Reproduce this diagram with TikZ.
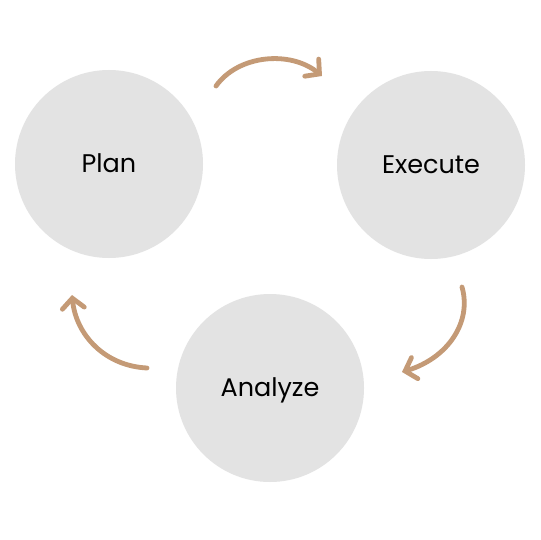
\documentclass[tikz,border=0pt]{standalone}
\usepackage{fontspec}
\setmainfont{Poppins}
\usetikzlibrary{arrows.meta,positioning}

\begin{document}
\begin{tikzpicture}[x=1pt,y=-1pt,
  stage/.style={circle,fill=stagefill,minimum size=188pt,inner sep=0pt,
    text height=17pt,text depth=0pt,font=\fontsize{25.5}{30}\selectfont},
  flow/.style={draw=flowcol,line width=4.8pt,line cap=round,
    -{Straight Barb[length=10pt,width=22pt,line cap=round]}}]
\colorlet{stagefill}{black!11} \definecolor{flowcol}{RGB}{196,154,118}
\useasboundingbox[fill=white] (0,0) rectangle (540,540);
\node [stage] (plan) at (109,164) {Plan};
\node [stage] (execute) at (431,165) {Execute};
\node [stage] (analyze) at (270,388) {Analyze};
% free ends of the arrows
\coordinate (p1) at (216,86);  \coordinate (e1) at (322,76);
\coordinate (e2) at (462,287); \coordinate (a1) at (402,372);
\coordinate (a2) at (147,368); \coordinate (p2) at (72,295);
\draw [flow] (p1) .. controls (238,55) and (290,50) .. (e1);
\draw [flow] (e2) .. controls (472,322) and (448,358) .. (a1);
\draw [flow] (a2) .. controls (105,366) and (76,335) .. (p2);
\end{tikzpicture}
\end{document}
